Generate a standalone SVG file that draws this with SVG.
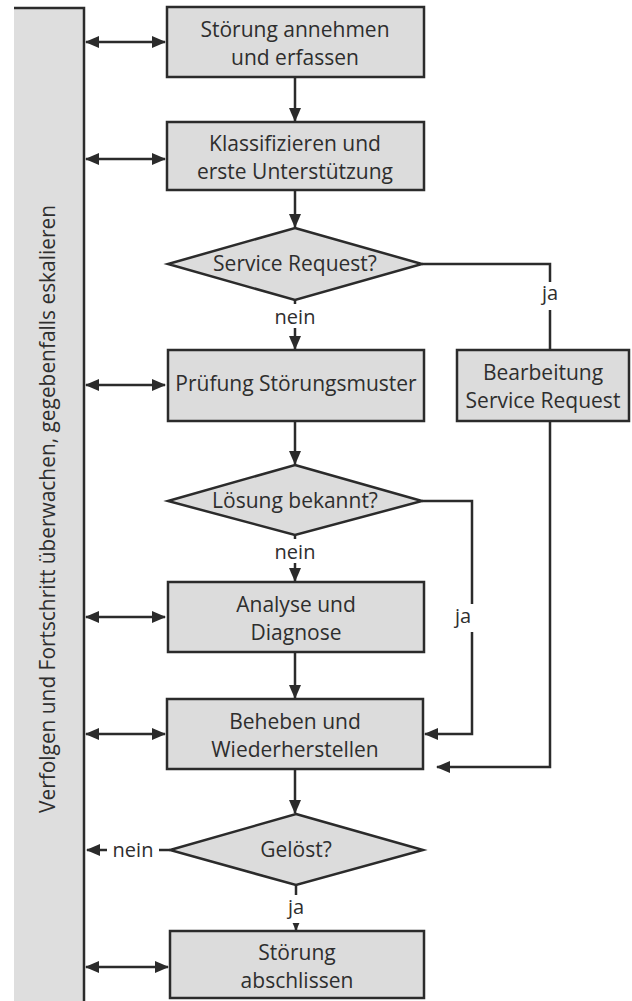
<svg xmlns="http://www.w3.org/2000/svg" width="632" height="1001" viewBox="0 0 632 1001">
<style>
.box{fill:#dcdcdc;stroke:#2b2b2b;stroke-width:2.5}
.ln{fill:none;stroke:#2b2b2b;stroke-width:2.5}
.t{font-family:"Open Sans","Noto Sans",sans-serif;font-size:21px;fill:#2e2e2e;text-anchor:middle}
.bg{fill:#ffffff}
</style>
<defs>
<marker id="ah" markerUnits="userSpaceOnUse" markerWidth="14" markerHeight="14" viewBox="0 0 14 14" refX="13" refY="7" orient="auto-start-reverse">
<path d="M0,1 L14,7 L0,13 Z" fill="#2b2b2b"/>
</marker>
</defs>
<rect width="632" height="1001" fill="#ffffff"/>
<g id="bar">
<rect x="14" y="8" width="70" height="1000" fill="#dedede"/>
<path class="ln" d="M14,8 H84 V1001"/>
<text class="t" transform="translate(55,509) rotate(-90)" textLength="608" lengthAdjust="spacingAndGlyphs">Verfolgen und Fortschritt überwachen, gegebenfalls eskalieren</text>
</g>
<g id="connectors">
<line class="ln" x1="86" y1="42" x2="165" y2="42" marker-start="url(#ah)" marker-end="url(#ah)"/>
<line class="ln" x1="86" y1="159" x2="165" y2="159" marker-start="url(#ah)" marker-end="url(#ah)"/>
<line class="ln" x1="86" y1="385" x2="165" y2="385" marker-start="url(#ah)" marker-end="url(#ah)"/>
<line class="ln" x1="86" y1="617" x2="165" y2="617" marker-start="url(#ah)" marker-end="url(#ah)"/>
<line class="ln" x1="86" y1="734" x2="165" y2="734" marker-start="url(#ah)" marker-end="url(#ah)"/>
<line class="ln" x1="86" y1="967" x2="168" y2="967" marker-start="url(#ah)" marker-end="url(#ah)"/>
<line class="ln" x1="295" y1="77" x2="295" y2="121" marker-end="url(#ah)"/>
<line class="ln" x1="295" y1="190" x2="295" y2="227" marker-end="url(#ah)"/>
<line class="ln" x1="295" y1="300" x2="295" y2="349" marker-end="url(#ah)"/>
<line class="ln" x1="295" y1="421" x2="295" y2="464" marker-end="url(#ah)"/>
<line class="ln" x1="295" y1="535" x2="295" y2="581" marker-end="url(#ah)"/>
<line class="ln" x1="295" y1="652" x2="295" y2="698" marker-end="url(#ah)"/>
<line class="ln" x1="295" y1="769" x2="295" y2="813" marker-end="url(#ah)"/>
<line class="ln" x1="296" y1="885" x2="296" y2="930" marker-end="url(#ah)"/>
<path class="ln" d="M422,264 H550 V350"/>
<path class="ln" d="M550,421 V767 H437" marker-end="url(#ah)"/>
<path class="ln" d="M422,501 H472 V734 H425" marker-end="url(#ah)"/>
<line class="ln" x1="170" y1="850" x2="87" y2="850" marker-end="url(#ah)"/>
<rect class="bg" x="107" y="836" width="52" height="26"/>
<text class="t" x="133" y="857" style="font-size:20px">nein</text>
<rect class="bg" x="272" y="304" width="46" height="24"/>
<text class="t" x="295" y="324" style="font-size:20px">nein</text>
<rect class="bg" x="272" y="539" width="46" height="24"/>
<text class="t" x="295" y="559" style="font-size:20px">nein</text>
<rect class="bg" x="540" y="282" width="20" height="28"/>
<text class="t" x="550" y="300" style="font-size:20px">ja</text>
<rect class="bg" x="452" y="604" width="26" height="28"/>
<text class="t" x="463" y="623" style="font-size:20px">ja</text>
<rect class="bg" x="286" y="895" width="20" height="28"/>
<text class="t" x="296" y="914" style="font-size:20px">ja</text>
</g>
<g id="n1">
<rect class="box" x="167" y="7" width="257" height="70"/>
<text class="t" x="295" y="37">Störung annehmen</text>
<text class="t" x="295" y="65">und erfassen</text>
</g>
<g id="n2">
<rect class="box" x="167" y="122" width="257" height="68"/>
<text class="t" x="295" y="151">Klassifizieren und</text>
<text class="t" x="295" y="179">erste Unterstützung</text>
</g>
<g id="d1">
<polygon class="box" points="295,228 422,264 295,300 168,264"/>
<text class="t" x="295" y="271">Service Request?</text>
</g>
<g id="n3">
<rect class="box" x="168" y="350" width="256" height="71"/>
<text class="t" x="296" y="391">Prüfung Störungsmuster</text>
</g>
<g id="n4">
<rect class="box" x="457" y="350" width="172" height="71"/>
<text class="t" x="543" y="380">Bearbeitung</text>
<text class="t" x="543" y="408">Service Request</text>
</g>
<g id="d2">
<polygon class="box" points="295,465 422,501 295,535 168,501"/>
<text class="t" x="295" y="508">Lösung bekannt?</text>
</g>
<g id="n5">
<rect class="box" x="168" y="582" width="256" height="70"/>
<text class="t" x="296" y="612">Analyse und</text>
<text class="t" x="296" y="640">Diagnose</text>
</g>
<g id="n6">
<rect class="box" x="167" y="699" width="256" height="70"/>
<text class="t" x="295" y="729">Beheben und</text>
<text class="t" x="295" y="757">Wiederherstellen</text>
</g>
<g id="d3">
<polygon class="box" points="296,814 423,850 296,885 170,850"/>
<text class="t" x="296" y="857">Gelöst?</text>
</g>
<g id="n7">
<rect class="box" x="170" y="931" width="254" height="67"/>
<text class="t" x="297" y="960">Störung</text>
<text class="t" x="297" y="988">abschlissen</text>
</g>
</svg>
